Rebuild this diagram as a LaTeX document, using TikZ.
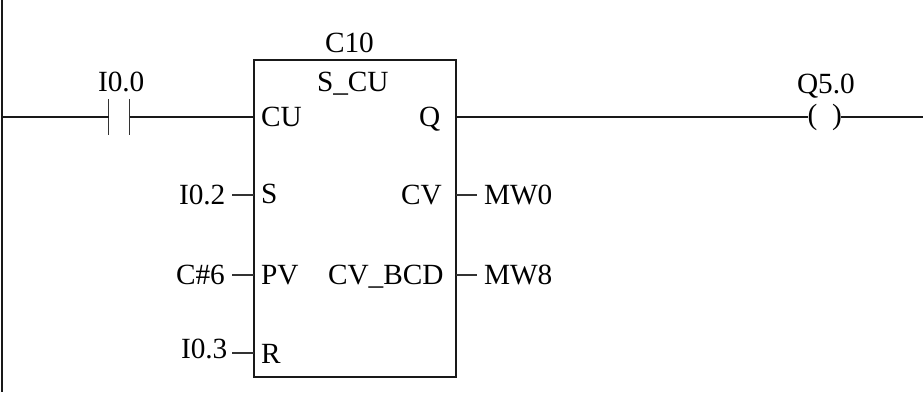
\documentclass[tikz,border=0pt]{standalone}
\usepackage{fontspec}
\setmainfont{Liberation Serif}
\begin{document}
\begin{tikzpicture}[x=1pt,y=-1pt,
  lbl/.style={anchor=base west,inner sep=0pt,outer sep=0pt,font=\fontsize{29.3}{31}\selectfont},
  wire/.style={line width=1.5pt,black!90},
  rail/.style={line width=2pt,black!90},
  bar/.style={line width=1.1pt,black!80},
  blockbox/.style={draw=black!90,line width=1.5pt,fill=none,inner sep=0pt,outer sep=0pt,minimum width=202pt,minimum height=317pt,anchor=north west},
  pt/.style={inner sep=0pt,outer sep=0pt,minimum size=0pt}]
\useasboundingbox (0,0) rectangle (923,402);
\fill[white] (0,0) rectangle (923,402);
\node[blockbox] (fb) at (254,60) {};
% thicker lower edge of the block
\draw[rail] (fb.south west) -- (fb.south east);
% rail
\coordinate (railtop) at (2,0);
\coordinate (railbot) at (2,392);
\coordinate (railtap) at (2,117);
\draw[rail] (railtop) -- (railbot);
% contact
\coordinate (cL) at (108.5,117);
\coordinate (cR) at (129.5,117);
\coordinate (cLt) at (108.5,99);
\coordinate (cLb) at (108.5,135);
\coordinate (cRt) at (129.5,99);
\coordinate (cRb) at (129.5,135);
\draw[bar] (cLt) -- (cLb);
\draw[bar] (cRt) -- (cRb);
\coordinate (fbCU) at (254,117);
\coordinate (fbQ) at (456,117);
\draw[wire] (railtap) -- (cL);
\draw[wire] (cR) -- (fbCU);
% coil
\coordinate (coilL) at (808,117);
\coordinate (coilR) at (841,117);
\coordinate (wireEnd) at (923,117);
\node[lbl] (coilA) at (807.5,124) {(};
\node[lbl] (coilB) at (832,124) {)};
\draw[wire] (fbQ) -- (coilL);
\draw[wire] (coilR) -- (wireEnd);
% labels
\node[lbl] (i00) at (98,91) {I0.0};
\node[lbl] (q50) at (797,93) {Q5.0};
\node[lbl] (c10) at (325,52) {C10};
\node[lbl] (scu) at (317,91) {S\_CU};
\node[lbl] (pCU) at (261,126) {CU};
\node[lbl] (pQ) at (419,126) {Q};
\node[lbl] (pS) at (261,203) {S};
\node[lbl] (pCV) at (401,204) {CV};
\node[lbl] (pPV) at (261,284) {PV};
\node[lbl] (pBCD) at (328,284) {CV\_BCD};
\node[lbl] (pR) at (261,363) {R};
\node[lbl] (i02) at (179,204) {I0.2};
\node[lbl] (c6) at (176,284) {C\#6};
\node[lbl] (i03) at (181,358) {I0.3};
\node[lbl] (mw0) at (484,204) {MW0};
\node[lbl] (mw8) at (484,284) {MW8};
% stubs
\coordinate (s1) at (232,195); \coordinate (s1e) at (254,195);
\coordinate (s2) at (232,275); \coordinate (s2e) at (254,275);
\coordinate (s3) at (232,353); \coordinate (s3e) at (254,353);
\coordinate (o1) at (456,195); \coordinate (o1e) at (477,195);
\coordinate (o2) at (456,275); \coordinate (o2e) at (477,275);
\draw[bar] (s1) -- (s1e);
\draw[bar] (s2) -- (s2e);
\draw[bar] (s3) -- (s3e);
\draw[bar] (o1) -- (o1e);
\draw[bar] (o2) -- (o2e);
\end{tikzpicture}
\end{document}
